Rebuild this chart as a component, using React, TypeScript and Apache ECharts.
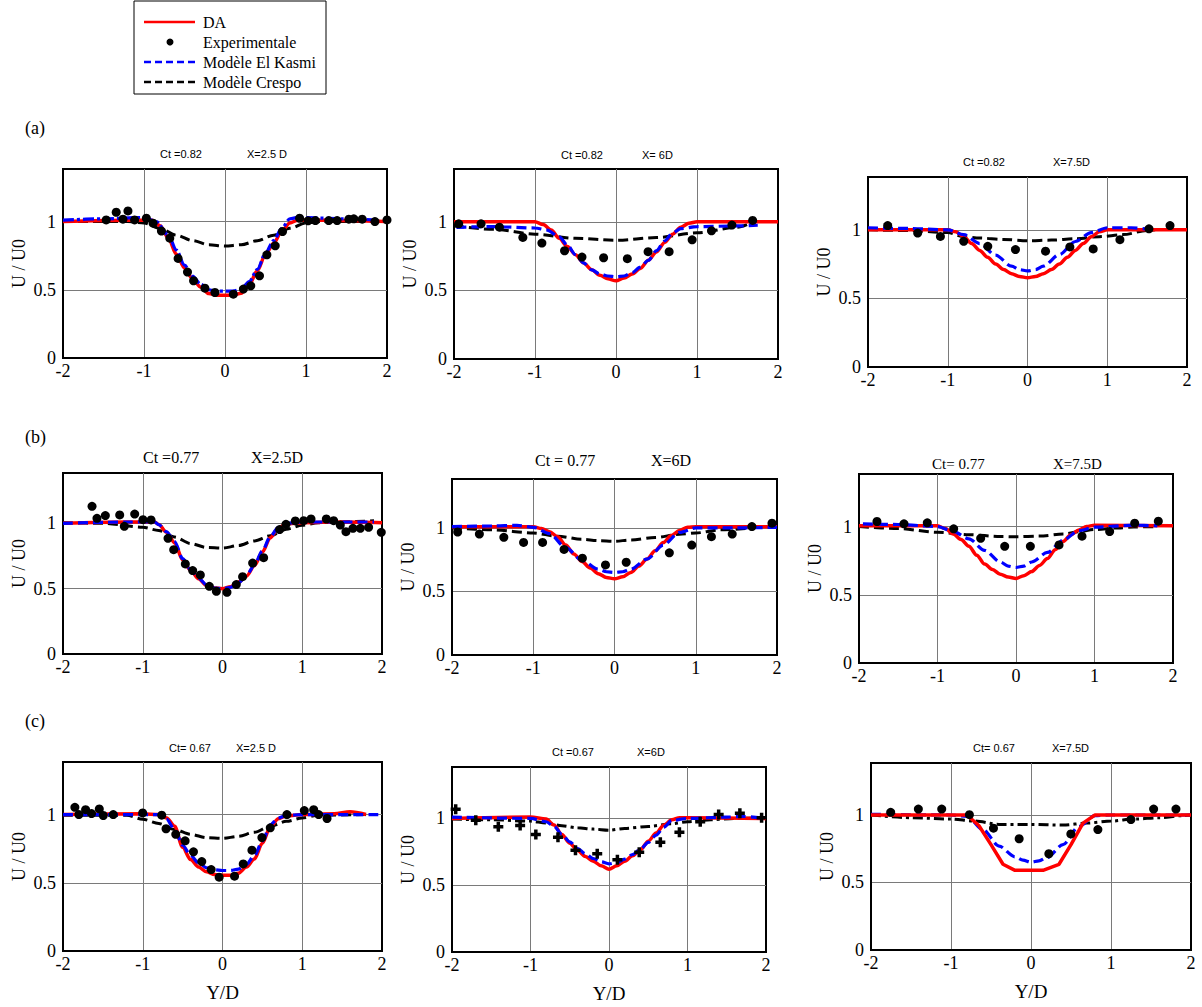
import React, { useEffect, useRef } from "react";
import * as echarts from "echarts";

type P = [number, number];

// ---------- data: row (a) Ct = 0.82 ----------
const A1_DA: P[] = [[-2,1.0],[-1.2,1.01],[-0.9,1.01],[-0.8,0.97],[-0.7,0.88],[-0.6,0.76],[-0.5,0.66],[-0.4,0.58],[-0.3,0.52],[-0.2,0.472],[-0.1,0.46],[0,0.46],[0.1,0.46],[0.2,0.475],[0.3,0.54],[0.4,0.64],[0.5,0.76],[0.6,0.84],[0.7,0.93],[0.8,0.99],[0.9,1.01],[1.2,1.01],[2,1.0]];
const A1_KASMI: P[] = [[-2,1.01],[-1.5,1.02],[-1.0,1.03],[-0.85,1.0],[-0.7,0.9],[-0.6,0.79],[-0.5,0.68],[-0.4,0.6],[-0.3,0.54],[-0.2,0.5],[-0.1,0.49],[0,0.49],[0.1,0.49],[0.2,0.505],[0.3,0.56],[0.4,0.65],[0.5,0.77],[0.6,0.86],[0.7,0.95],[0.8,1.02],[0.9,1.03],[1.5,1.02],[1.9,1.01]];
const A1_CRESPO: P[] = [[-2,1.0],[-1.2,1.0],[-1.0,0.99],[-0.8,0.95],[-0.6,0.9],[-0.4,0.86],[-0.2,0.83],[0,0.82],[0.2,0.83],[0.4,0.86],[0.6,0.9],[0.8,0.95],[1.0,0.99],[1.2,1.0],[2,1.0]];
const A1_EXP: P[] = [[-1.467,1.012],[-1.343,1.068],[-1.26,1.017],[-1.198,1.078],[-1.116,1.012],[-0.971,1.024],[-0.888,0.988],[-0.785,0.93],[-0.682,0.878],[-0.579,0.73],[-0.463,0.63],[-0.388,0.566],[-0.248,0.512],[-0.124,0.48],[0.103,0.468],[0.227,0.505],[0.318,0.529],[0.426,0.602],[0.517,0.756],[0.62,0.822],[0.71,0.927],[0.921,1.024],[1.025,1.005],[1.116,1.007],[1.281,1.007],[1.384,1.007],[1.529,1.017],[1.59,1.02],[1.694,1.017],[1.851,1.0],[2.0,1.012]];

const A2_DA: P[] = [[-2,1],[-1,1],[-0.9,0.98],[-0.8,0.94],[-0.7,0.88],[-0.6,0.82],[-0.5,0.76],[-0.4,0.7],[-0.3,0.65],[-0.2,0.61],[-0.1,0.585],[0,0.57],[0.1,0.59],[0.2,0.62],[0.3,0.66],[0.4,0.72],[0.5,0.78],[0.6,0.85],[0.7,0.91],[0.8,0.96],[0.9,0.99],[1.0,1.0],[2,1]];
const A2_KASMI: P[] = [[-1.97,0.96],[-1.5,0.965],[-1.0,0.955],[-0.85,0.94],[-0.7,0.89],[-0.6,0.83],[-0.5,0.76],[-0.4,0.7],[-0.3,0.65],[-0.2,0.62],[-0.1,0.605],[0,0.6],[0.1,0.605],[0.2,0.63],[0.3,0.67],[0.4,0.72],[0.5,0.79],[0.6,0.86],[0.7,0.92],[0.8,0.95],[1.0,0.965],[1.5,0.97],[1.75,0.975]];
const A2_CRESPO: P[] = [[-2,0.97],[-1.5,0.945],[-1.0,0.91],[-0.5,0.88],[0,0.865],[0.5,0.885],[1.0,0.92],[1.5,0.96],[1.7,1.0]];
const A2_EXP: P[] = [[-1.942,0.985],[-1.666,0.985],[-1.439,0.961],[-1.15,0.886],[-0.915,0.845],[-0.635,0.789],[-0.42,0.743],[-0.153,0.738],[0.14,0.731],[0.396,0.782],[0.656,0.782],[0.94,0.869],[1.179,0.934],[1.431,0.976],[1.687,1.01]];

const A3_DA: P[] = [[-2,1],[-1.0,1.0],[-0.9,0.985],[-0.8,0.95],[-0.7,0.9],[-0.6,0.85],[-0.5,0.8],[-0.4,0.75],[-0.3,0.71],[-0.2,0.68],[-0.1,0.66],[0,0.65],[0.1,0.66],[0.2,0.68],[0.3,0.71],[0.4,0.75],[0.5,0.8],[0.6,0.85],[0.7,0.9],[0.8,0.95],[0.9,0.985],[1.0,1.0],[2,1]];
const A3_KASMI: P[] = [[-2,1.015],[-1.5,1.01],[-1.0,1.0],[-0.8,0.965],[-0.6,0.9],[-0.4,0.815],[-0.2,0.735],[-0.1,0.71],[0,0.7],[0.1,0.71],[0.2,0.735],[0.4,0.82],[0.6,0.915],[0.8,0.98],[1.0,1.015],[1.3,1.015],[1.5,1.005]];
const A3_CRESPO: P[] = [[-2,1.0],[-1.5,0.995],[-1.0,0.98],[-0.8,0.95],[-0.6,0.94],[-0.3,0.93],[0,0.92],[0.3,0.925],[0.6,0.935],[0.9,0.95],[1.2,0.965],[1.5,0.995],[1.6,1.0]];
const A3_EXP: P[] = [[-1.753,1.031],[-1.377,0.976],[-1.092,0.952],[-0.8,0.916],[-0.498,0.88],[-0.151,0.856],[0.226,0.844],[0.531,0.875],[0.824,0.861],[1.159,0.928],[1.523,1.007],[1.787,1.031]];

// ---------- data: row (b) Ct = 0.77 ----------
const B1_DA: P[] = [[-2,1.0],[-1.2,1.01],[-0.85,1.01],[-0.8,0.99],[-0.7,0.93],[-0.6,0.85],[-0.5,0.72],[-0.4,0.64],[-0.3,0.575],[-0.2,0.525],[-0.1,0.505],[0,0.5],[0.1,0.515],[0.2,0.55],[0.3,0.595],[0.4,0.675],[0.5,0.78],[0.6,0.89],[0.7,0.965],[0.8,0.995],[1.0,1.005],[1.5,1.01],[2,1.005]];
const B1_KASMI: P[] = [[-2,1.0],[-1.2,1.01],[-0.85,1.01],[-0.8,0.99],[-0.7,0.935],[-0.6,0.86],[-0.5,0.73],[-0.4,0.645],[-0.3,0.58],[-0.2,0.53],[-0.1,0.505],[0,0.5],[0.1,0.51],[0.2,0.545],[0.3,0.6],[0.4,0.68],[0.5,0.79],[0.6,0.9],[0.7,0.97],[0.8,1.0],[1.0,1.01],[1.5,1.01],[1.9,1.01]];
const B1_CRESPO: P[] = [[-2,1.005],[-1.5,1.0],[-1.0,0.97],[-0.8,0.945],[-0.6,0.895],[-0.4,0.845],[-0.2,0.815],[0,0.81],[0.2,0.83],[0.4,0.865],[0.6,0.905],[0.8,0.955],[1.0,0.985],[1.2,1.005],[1.5,1.01],[1.9,1.02]];
const B1_EXP: P[] = [[-1.636,1.13],[-1.574,1.038],[-1.469,1.059],[-1.289,1.064],[-1.231,0.977],[-1.101,1.071],[-0.997,1.028],[-0.896,1.026],[-0.683,0.885],[-0.612,0.798],[-0.466,0.689],[-0.374,0.638],[-0.278,0.605],[-0.165,0.518],[-0.077,0.48],[0.056,0.472],[0.173,0.531],[0.252,0.592],[0.378,0.696],[0.516,0.737],[0.716,0.952],[0.796,0.992],[0.913,1.018],[1.018,1.02],[1.11,1.033],[1.302,1.033],[1.394,1.02],[1.477,0.987],[1.548,0.936],[1.636,0.962],[1.728,0.962],[1.832,0.969],[1.991,0.931]];

const B2_DA: P[] = [[-2,1.01],[-1.0,1.01],[-0.9,0.995],[-0.8,0.97],[-0.7,0.93],[-0.6,0.865],[-0.5,0.795],[-0.4,0.735],[-0.3,0.685],[-0.2,0.64],[-0.1,0.61],[0,0.6],[0.1,0.615],[0.2,0.65],[0.3,0.7],[0.4,0.755],[0.5,0.82],[0.6,0.885],[0.7,0.94],[0.8,0.98],[0.9,1.005],[1.0,1.01],[2,1.01]];
const B2_KASMI: P[] = [[-2,1.01],[-1.5,1.015],[-1.2,1.02],[-1.0,1.005],[-0.8,0.955],[-0.6,0.845],[-0.4,0.745],[-0.2,0.675],[-0.1,0.655],[0,0.65],[0.1,0.655],[0.2,0.675],[0.4,0.755],[0.6,0.865],[0.8,0.965],[1.0,1.0],[1.5,1.0],[2,1.005]];
const B2_CRESPO: P[] = [[-2,1.0],[-1.5,0.985],[-1.0,0.96],[-0.7,0.935],[-0.4,0.91],[-0.2,0.9],[0,0.895],[0.2,0.905],[0.5,0.925],[0.8,0.95],[1.0,0.96],[1.3,0.985],[1.7,1.0]];
const B2_EXP: P[] = [[-1.93,0.968],[-1.663,0.952],[-1.362,0.926],[-1.119,0.886],[-0.885,0.886],[-0.621,0.831],[-0.395,0.762],[-0.111,0.709],[0.144,0.73],[0.675,0.804],[0.951,0.865],[1.193,0.931],[1.449,0.952],[1.691,1.011],[1.938,1.037]];

const B3_DA: P[] = [[-2,1.005],[-1.0,1.005],[-0.9,0.985],[-0.8,0.945],[-0.7,0.905],[-0.6,0.855],[-0.5,0.79],[-0.4,0.725],[-0.3,0.685],[-0.2,0.65],[-0.1,0.63],[0,0.62],[0.1,0.64],[0.2,0.67],[0.3,0.715],[0.4,0.765],[0.5,0.83],[0.6,0.89],[0.7,0.94],[0.8,0.975],[0.9,1.0],[1.0,1.01],[2,1.005]];
const B3_KASMI: P[] = [[-1.95,1.02],[-1.5,1.015],[-1.0,1.0],[-0.8,0.965],[-0.6,0.91],[-0.4,0.825],[-0.2,0.74],[-0.1,0.71],[0,0.7],[0.1,0.71],[0.2,0.74],[0.4,0.81],[0.6,0.9],[0.8,0.97],[1.0,0.995],[1.5,1.01],[1.8,1.005]];
const B3_CRESPO: P[] = [[-2,1.0],[-1.5,0.985],[-1.0,0.958],[-0.6,0.94],[-0.2,0.927],[0,0.925],[0.3,0.93],[0.6,0.945],[0.8,0.962],[1.0,0.978],[1.3,0.99],[1.5,0.997],[1.8,1.0]];
const B3_EXP: P[] = [[-1.771,1.037],[-1.427,1.02],[-1.13,1.027],[-0.794,0.983],[-0.45,0.914],[-0.144,0.855],[0.183,0.855],[0.548,0.865],[0.841,0.929],[1.193,0.963],[1.512,1.025],[1.813,1.039]];

// ---------- data: row (c) Ct = 0.67 ----------
const C1_DA: P[] = [[-2,1.0],[-1.0,1.005],[-0.8,1.0],[-0.7,0.975],[-0.6,0.915],[-0.5,0.76],[-0.4,0.67],[-0.3,0.615],[-0.2,0.58],[-0.1,0.56],[0,0.555],[0.1,0.555],[0.2,0.57],[0.3,0.615],[0.4,0.675],[0.5,0.79],[0.6,0.91],[0.7,0.97],[0.8,0.99],[1.0,1.0],[1.4,1.005],[1.6,1.02],[1.8,1.0]];
const C1_KASMI: P[] = [[-2,1.0],[-0.8,1.0],[-0.7,0.965],[-0.6,0.89],[-0.5,0.775],[-0.4,0.7],[-0.3,0.645],[-0.2,0.61],[-0.1,0.595],[0,0.59],[0.1,0.59],[0.2,0.6],[0.3,0.635],[0.4,0.7],[0.5,0.805],[0.6,0.925],[0.7,0.975],[0.8,0.993],[1.0,1.0],[2,1.0]];
const C1_CRESPO: P[] = [[-2,0.995],[-1.2,0.995],[-1.0,0.965],[-0.8,0.935],[-0.6,0.89],[-0.4,0.855],[-0.2,0.83],[0,0.825],[0.2,0.84],[0.4,0.87],[0.6,0.915],[0.8,0.95],[1.0,0.975],[1.2,0.995],[1.8,1.0]];
const C1_EXP: P[] = [[-1.851,1.053],[-1.801,1.0],[-1.717,1.036],[-1.642,1.007],[-1.545,1.041],[-1.495,0.993],[-1.37,1.0],[-1.001,1.012],[-0.762,0.995],[-0.708,0.896],[-0.586,0.855],[-0.469,0.807],[-0.364,0.727],[-0.26,0.655],[-0.142,0.597],[-0.042,0.541],[0.151,0.548],[0.26,0.638],[0.369,0.739],[0.494,0.831],[0.599,0.903],[0.808,1.0],[1.026,1.029],[1.143,1.036],[1.206,1.0],[1.311,0.971]];

const C2_DA: P[] = [[-2,1.0],[-1.0,1.01],[-0.8,0.995],[-0.7,0.95],[-0.6,0.88],[-0.5,0.815],[-0.4,0.76],[-0.3,0.715],[-0.2,0.68],[-0.1,0.645],[0,0.62],[0.1,0.645],[0.2,0.68],[0.3,0.72],[0.4,0.765],[0.5,0.83],[0.6,0.89],[0.7,0.95],[0.8,0.99],[0.9,1.005],[1.0,1.005],[2,1.0]];
const C2_KASMI: P[] = [[-2,1.01],[-1.0,1.0],[-0.8,0.975],[-0.7,0.94],[-0.6,0.88],[-0.5,0.825],[-0.4,0.775],[-0.3,0.735],[-0.2,0.7],[-0.1,0.675],[0,0.66],[0.1,0.67],[0.2,0.695],[0.3,0.73],[0.4,0.77],[0.5,0.82],[0.6,0.875],[0.7,0.935],[0.8,0.985],[1.0,1.0],[1.5,1.01],[1.7,1.015],[2,1.0]];
const C2_CRESPO: P[] = [[-2,0.995],[-1.5,0.99],[-1.0,0.98],[-0.8,0.965],[-0.6,0.945],[-0.4,0.93],[-0.2,0.92],[0,0.912],[0.2,0.925],[0.5,0.94],[0.8,0.96],[1.0,0.975],[1.3,0.99],[1.6,1.0],[2,1.005]];
const C2_EXP: P[] = [[-1.953,1.068],[-1.697,0.987],[-1.41,0.937],[-1.132,0.947],[-0.932,0.879],[-0.65,0.859],[-0.427,0.761],[-0.15,0.736],[0.107,0.691],[0.385,0.746],[0.654,0.822],[0.897,0.897],[1.162,0.975],[1.397,1.03],[1.667,1.038],[1.944,1.005]];

const C3_DA: P[] = [[-2,1.0],[-0.8,1.0],[-0.65,0.92],[-0.5,0.78],[-0.35,0.635],[-0.2,0.59],[0,0.59],[0.15,0.59],[0.35,0.635],[0.5,0.78],[0.65,0.94],[0.8,1.0],[2,1.0]];
const C3_KASMI: P[] = [[-2,1.005],[-1.0,1.0],[-0.8,0.99],[-0.6,0.89],[-0.4,0.77],[-0.2,0.69],[-0.1,0.665],[0,0.65],[0.1,0.66],[0.2,0.685],[0.4,0.78],[0.6,0.915],[0.8,0.995],[1.0,1.0],[2,1.0]];
const C3_CRESPO: P[] = [[-2,1.0],[-1.5,0.98],[-1.0,0.97],[-0.7,0.955],[-0.4,0.93],[0,0.93],[0.4,0.925],[0.7,0.94],[1.0,0.955],[1.3,0.97],[1.6,0.98],[1.9,0.995],[2,1.0]];
const C3_EXP: P[] = [[-1.754,1.02],[-1.408,1.044],[-1.116,1.044],[-0.77,1.002],[-0.469,0.902],[-0.148,0.824],[0.223,0.713],[0.498,0.86],[0.836,0.892],[1.249,0.966],[1.533,1.044],[1.812,1.044]];

const DA_SERIES = [A1_DA, A2_DA, A3_DA, B1_DA, B2_DA, B3_DA, C1_DA, C2_DA, C3_DA];
const KASMI_SERIES = [A1_KASMI, A2_KASMI, A3_KASMI, B1_KASMI, B2_KASMI, B3_KASMI, C1_KASMI, C2_KASMI, C3_KASMI];
const CRESPO_SERIES = [A1_CRESPO, A2_CRESPO, A3_CRESPO, B1_CRESPO, B2_CRESPO, B3_CRESPO, C1_CRESPO, C2_CRESPO, C3_CRESPO];
const EXP_SERIES = [A1_EXP, A2_EXP, A3_EXP, B1_EXP, B2_EXP, B3_EXP, C1_EXP, C2_EXP, C3_EXP];

const CT_LABELS = ["Ct =0.82", "Ct =0.82", "Ct =0.82", "Ct =0.77", "Ct = 0.77", "Ct= 0.77", "Ct= 0.67", "Ct =0.67", "Ct= 0.67"];
const XPOS_LABELS = ["X=2.5 D", "X= 6D", "X=7.5D", "X=2.5D", "X=6D", "X=7.5D", "X=2.5 D", "X=6D", "X=7.5D"];
const ROW_LABELS = ["(a)", "(b)", "(c)"];
const LEGEND_NAMES = ["DA", "Experimentale", "Modèle El Kasmi", "Modèle Crespo"];
const X_MIN = -2, X_MAX = 2, X_STEP = 1;
const Y_MIN = 0, Y_MAX = 1.385, Y_STEP = 0.5;
const Y_NAME = "U / U0";
const X_NAME = "Y/D";

// ---------- layout (pixels) ----------
const GRIDS = [
  { left: 63, top: 169, width: 324, height: 189 },
  { left: 454, top: 169, width: 324, height: 190 },
  { left: 868, top: 177, width: 319, height: 190 },
  { left: 63, top: 473, width: 319, height: 181 },
  { left: 452, top: 479, width: 325, height: 176 },
  { left: 859, top: 474, width: 314, height: 189 },
  { left: 63, top: 762, width: 319, height: 189 },
  { left: 452, top: 767, width: 314, height: 185 },
  { left: 871, top: 763, width: 320, height: 187 },
];
const TITLE_LAYOUT = [
  { ctX: 160, xX: 247, y: 154, serif: false, size: 11 },
  { ctX: 561, xX: 642, y: 155, serif: false, size: 11 },
  { ctX: 963, xX: 1053, y: 162, serif: false, size: 11 },
  { ctX: 143, xX: 251, y: 457, serif: true, size: 16 },
  { ctX: 535, xX: 651, y: 460, serif: true, size: 16 },
  { ctX: 932, xX: 1053, y: 464, serif: true, size: 15 },
  { ctX: 169, xX: 236, y: 748, serif: false, size: 11 },
  { ctX: 552, xX: 637, y: 752, serif: false, size: 11 },
  { ctX: 973, xX: 1052, y: 748, serif: false, size: 11 },
];
const ROW_LABEL_Y = [128, 437, 721];

const SERIF = "Liberation Serif, Times New Roman, Times, serif";
const SANS = "Liberation Sans, Arial, Helvetica, sans-serif";
const RED = "#ff0000";
const BLUE = "#0000ff";
const DASH: number[] = [10, 5];
const DASH_DOT: number[] = [10, 4, 3, 4];
const PLUS = "path://M2.6,0L5.4,0L5.4,2.6L8,2.6L8,5.4L5.4,5.4L5.4,8L2.6,8L2.6,5.4L0,5.4L0,2.6L2.6,2.6Z";

export default function App() {
  const ref = useRef<HTMLDivElement>(null);

  useEffect(() => {
    document.body.style.margin = "0";
    if (!ref.current) return;
    const chart = echarts.init(ref.current, undefined, { renderer: "svg" });

    const grid = GRIDS.map((g) => ({
      ...g,
      show: true,
      borderColor: "#000",
      borderWidth: 2,
      backgroundColor: "transparent",
      containLabel: false,
    }));

    const xAxis = GRIDS.map((_, i) => ({
      type: "value",
      gridIndex: i,
      min: X_MIN,
      max: X_MAX,
      interval: X_STEP,
      name: i >= 6 ? X_NAME : "",
      nameLocation: "middle",
      nameGap: 32,
      nameTextStyle: { fontFamily: SERIF, fontSize: 19, color: "#000" },
      axisLine: { show: true, onZero: false, lineStyle: { color: "#000", width: 2 } },
      axisTick: { show: false },
      axisLabel: { color: "#000", fontFamily: SERIF, fontSize: 18, margin: 4 },
      splitLine: { show: true, showMinLine: false, showMaxLine: false, lineStyle: { color: "#7a7a7a", width: 1 } },
    }));

    const yAxis = GRIDS.map((_, i) => ({
      type: "value",
      gridIndex: i,
      min: Y_MIN,
      max: Y_MAX,
      interval: Y_STEP,
      name: Y_NAME,
      nameLocation: "middle",
      nameGap: 35,
      nameRotate: 90,
      nameTextStyle: { fontFamily: SERIF, fontSize: 18, color: "#000" },
      axisLine: { show: true, onZero: false, lineStyle: { color: "#000", width: 2 } },
      axisTick: { show: false },
      axisLabel: { color: "#000", fontFamily: SERIF, fontSize: 18, margin: 7, showMaxLabel: false },
      splitLine: { show: true, showMinLine: false, showMaxLine: false, lineStyle: { color: "#7a7a7a", width: 1 } },
    }));

    const series: any[] = [];
    for (let i = 0; i < 9; i++) {
      series.push({
        name: LEGEND_NAMES[3],
        type: "line",
        xAxisIndex: i,
        yAxisIndex: i,
        data: CRESPO_SERIES[i],
        showSymbol: false,
        smooth: 0.3,
        smoothMonotone: "x",
        lineStyle: { color: "#000", width: 3, type: i === 7 || i === 8 ? DASH_DOT : DASH },
        z: 2,
      });
      series.push({
        name: LEGEND_NAMES[0],
        type: "line",
        xAxisIndex: i,
        yAxisIndex: i,
        data: DA_SERIES[i],
        showSymbol: false,
        smooth: i === 8 ? false : 0.3,
        smoothMonotone: "x",
        lineStyle: { color: RED, width: 3.5, type: "solid" },
        z: 3,
      });
      series.push({
        name: LEGEND_NAMES[2],
        type: "line",
        xAxisIndex: i,
        yAxisIndex: i,
        data: KASMI_SERIES[i],
        showSymbol: false,
        smooth: 0.3,
        smoothMonotone: "x",
        lineStyle: { color: BLUE, width: 3.2, type: i === 0 ? [11, 3, 3, 3] : DASH },
        z: i === 8 ? 2 : 4,
      });
      series.push({
        name: LEGEND_NAMES[1],
        type: "scatter",
        xAxisIndex: i,
        yAxisIndex: i,
        data: EXP_SERIES[i],
        symbol: i === 7 ? PLUS : "circle",
        symbolSize: i === 7 ? 10 : 9,
        itemStyle: { color: "#000", opacity: 1 },
        z: 5,
      });
    }

    const graphic: any[] = [];
    // legend box
    graphic.push({ type: "rect", shape: { x: 134, y: 1, width: 192, height: 93 }, style: { fill: "#fff", stroke: "#000", lineWidth: 1 } });
    graphic.push({ type: "line", shape: { x1: 144, y1: 22, x2: 195, y2: 22 }, style: { stroke: RED, lineWidth: 2.5 } });
    graphic.push({ type: "circle", shape: { cx: 170, cy: 42, r: 3.5 }, style: { fill: "#000" } });
    graphic.push({ type: "line", shape: { x1: 144, y1: 62, x2: 195, y2: 62 }, style: { stroke: BLUE, lineWidth: 2.5, lineDash: [7, 4] } });
    graphic.push({ type: "line", shape: { x1: 144, y1: 82, x2: 195, y2: 82 }, style: { stroke: "#000", lineWidth: 2.5, lineDash: [7, 4] } });
    LEGEND_NAMES.forEach((n, k) => {
      graphic.push({
        type: "text",
        x: 203,
        y: 22 + k * 20,
        style: { text: n, fontFamily: SERIF, fontSize: 16, fill: "#000", align: "left", verticalAlign: "middle" },
      });
    });
    // row labels
    ROW_LABELS.forEach((t, r) => {
      graphic.push({
        type: "text",
        x: 25,
        y: ROW_LABEL_Y[r],
        style: { text: t, fontFamily: SERIF, fontSize: 18, fill: "#000", align: "left", verticalAlign: "middle" },
      });
    });
    // panel titles
    TITLE_LAYOUT.forEach((t, i) => {
      const font = t.serif ? SERIF : SANS;
      graphic.push({
        type: "text",
        x: t.ctX,
        y: t.y,
        style: { text: CT_LABELS[i], fontFamily: font, fontSize: t.size, fill: "#000", align: "left", verticalAlign: "middle" },
      });
      graphic.push({
        type: "text",
        x: t.xX,
        y: t.y,
        style: { text: XPOS_LABELS[i], fontFamily: font, fontSize: t.size, fill: "#000", align: "left", verticalAlign: "middle" },
      });
    });

    chart.setOption({
      animation: false,
      backgroundColor: "#fff",
      grid,
      xAxis,
      yAxis,
      series,
      graphic,
    } as any);

    return () => chart.dispose();
  }, []);

  return <div ref={ref} style={{ width: 1202, height: 1007 }} />;
}
